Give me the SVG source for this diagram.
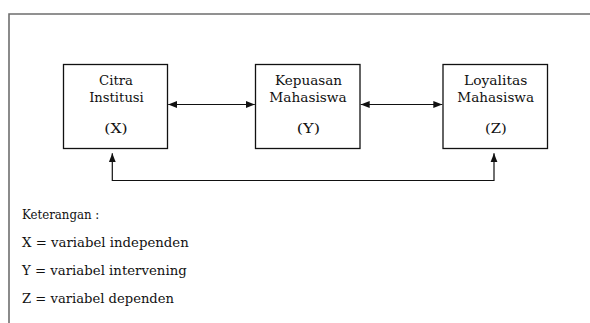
<svg xmlns="http://www.w3.org/2000/svg" width="590" height="323" viewBox="0 0 590 323">
<style>
.box{fill:#fff;stroke:#111;stroke-width:1.3}
.t{font-family:'DejaVu Serif','Liberation Serif',serif;font-size:13.3px;fill:#111;text-anchor:middle}
.l{font-family:'DejaVu Serif','Liberation Serif',serif;font-size:13.3px;fill:#111}
.c{fill:none;stroke:#111;stroke-width:1.2}
</style>
<defs>
<marker id="ah" markerUnits="userSpaceOnUse" markerWidth="10" markerHeight="9" refX="9" refY="4.5" orient="auto-start-reverse">
<path d="M0,1 L9,4.5 L0,8 Z" fill="#111"/>
</marker>
</defs>
<rect width="590" height="323" fill="#fff"/>
<g id="frame"><path d="M9,323 V14 H590" fill="none" stroke="#6e6e6e" stroke-width="1.6"/></g>
<g id="node-x">
<rect class="box" x="63.5" y="64.5" width="104" height="84"/>
<text class="t" x="116" y="85" textLength="34" lengthAdjust="spacingAndGlyphs">Citra</text>
<text class="t" x="116.5" y="102" textLength="54.7" lengthAdjust="spacingAndGlyphs">Institusi</text>
<text class="t" x="116" y="133" textLength="23.3" lengthAdjust="spacingAndGlyphs">(X)</text>
</g>
<g id="node-y">
<rect class="box" x="255.5" y="64.5" width="104.5" height="84"/>
<text class="t" x="308.5" y="85" textLength="67" lengthAdjust="spacingAndGlyphs">Kepuasan</text>
<text class="t" x="308" y="102" textLength="77.3" lengthAdjust="spacingAndGlyphs">Mahasiswa</text>
<text class="t" x="308.3" y="133" textLength="23.3" lengthAdjust="spacingAndGlyphs">(Y)</text>
</g>
<g id="node-z">
<rect class="box" x="443" y="64.5" width="104.5" height="84"/>
<text class="t" x="495.7" y="85" textLength="63.3" lengthAdjust="spacingAndGlyphs">Loyalitas</text>
<text class="t" x="495.7" y="102" textLength="76.7" lengthAdjust="spacingAndGlyphs">Mahasiswa</text>
<text class="t" x="495.8" y="133" textLength="21.7" lengthAdjust="spacingAndGlyphs">(Z)</text>
</g>
<g id="connectors">
<path class="c" d="M168.2,104.5 H254.8" marker-start="url(#ah)" marker-end="url(#ah)"/>
<path class="c" d="M360.7,104.5 H442.3" marker-start="url(#ah)" marker-end="url(#ah)"/>
<path class="c" d="M112.3,153.3 V180.5 H494 V153.3" marker-start="url(#ah)" marker-end="url(#ah)"/>
</g>
<g id="legend">
<text class="l" x="22" y="219" textLength="77.3" lengthAdjust="spacingAndGlyphs">Keterangan :</text>
<text class="l" x="22" y="247" textLength="166.7" lengthAdjust="spacingAndGlyphs">X = variabel independen</text>
<text class="l" x="22" y="275" textLength="164.7" lengthAdjust="spacingAndGlyphs">Y = variabel intervening</text>
<text class="l" x="22" y="303" textLength="152" lengthAdjust="spacingAndGlyphs">Z = variabel dependen</text>
</g>
</svg>
